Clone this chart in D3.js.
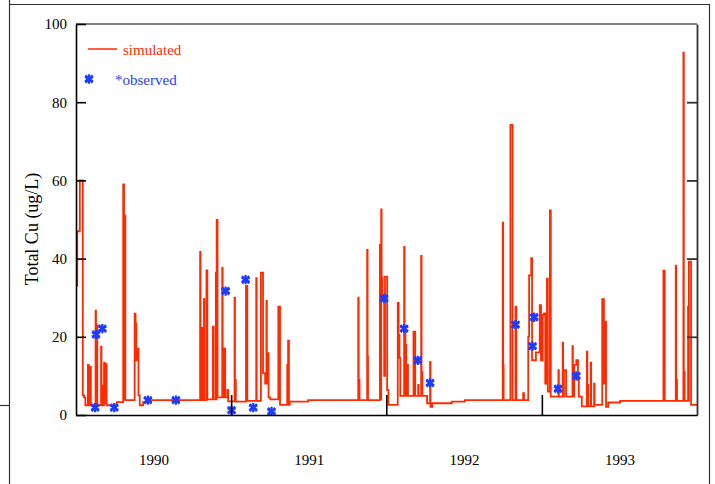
<!DOCTYPE html>
<html>
<head>
<meta charset="utf-8">
<script src="https://cdn.jsdelivr.net/npm/d3@7"></script>
<style>
  body { margin: 0; background: #fff; }
  svg { display: block; }
  text { font-family: "Liberation Serif", "Times New Roman", serif; }
</style>
</head>
<body>
<div id="chart"></div>
<script>
const w = 715;
const h = 484;

// simulated total Cu, [day since 1990-01-01, ug/L], held until the next step
const simSteps = [
  [0, 33], [3, 47], [9, 60], [16, 5], [19, 4.5], [22, 2.5],
  [28, 12.8], [30, 2.5], [32, 12.3], [35, 2.5],
  [46, 26.7], [47, 2.5], [48, 23], [50, 2.5],
  [59, 17.5], [60, 2.5], [61, 7.5], [63, 2.5],
  [66, 13.3], [68, 3], [69, 13], [72, 2.5],
  [96, 3.3],
  [111, 59], [113, 4], [114, 51], [116, 3.8],
  [138, 25.9], [140, 23.4], [142, 14], [144, 17], [147, 5], [150, 2.5], [158, 3.3], [165, 3.8],
  [292, 41.7], [293, 3.8], [294, 22.3], [297, 3.8], [301, 29.7], [302, 3.8], [307, 37], [309, 4],
  [322, 22.6], [324, 4], [329, 36.4], [330, 4], [331, 49.9], [333, 4.5],
  [344, 37.6], [345, 4.5], [348, 17], [351, 4.5], [356, 6.4], [358, 3.5],
  [373, 30], [374, 9], [376, 3.4],
  [400, 33], [403, 3.6],
  [424, 35], [425, 3.6],
  [435, 36.4], [440, 10.7], [445, 8], [448, 29.2], [449, 8], [452, 15.8], [453, 4.5], [457, 4],
  [476, 27.7], [480, 2.6],
  [497, 12.8], [499, 19], [501, 2.6], [503, 3.4], [546, 3.8],
  [664, 30], [665, 9], [667, 3.8],
  [685, 42.2], [686, 15], [687, 3.8],
  [715, 43.5], [717, 4], [718, 52.6], [719, 35.2], [721, 29.4], [725, 10], [727, 35.4], [732, 6.4], [735, 2.6],
  [757, 28.7], [759, 20.5], [761, 14.6], [763, 4.9],
  [772, 43], [773, 22], [775, 4.9], [776, 17.9], [777, 4.9], [780, 12.8], [781, 4.9],
  [794, 21.3], [798, 4.9], [805, 7.7], [806, 4.9],
  [812, 40.7], [813, 11], [815, 4.9], [826, 3],
  [833, 13.6], [834, 2.1], [838, 3], [884, 3.4], [915, 3.8],
  [1004, 49.2], [1005, 12.8], [1006, 3.8],
  [1022, 74.2], [1027, 3.8],
  [1034, 27.7], [1036, 3.8],
  [1052, 5.6], [1054, 3.8],
  [1064, 20], [1066, 35.7], [1071, 40.1], [1073, 14], [1082, 16], [1091, 28.1], [1094, 14],
  [1098, 25.6], [1101, 26], [1104, 8], [1108, 34.9], [1110, 6], [1115, 52.3], [1117, 4.7],
  [1135, 11.5], [1136, 4.7],
  [1145, 18.5], [1146, 4.7], [1148, 11.5], [1153, 4.7],
  [1168, 17.6], [1169, 4.7], [1172, 12.8], [1177, 14], [1181, 9], [1183, 4.7], [1190, 2.2],
  [1202, 16.2], [1203, 2.2], [1204, 7.7], [1205, 2.2], [1211, 13.4], [1212, 2.2], [1219, 8], [1220, 2.6],
  [1238, 29.6], [1242, 8], [1245, 23.9], [1247, 2.1], [1252, 3.2], [1280, 3.6],
  [1382, 36.9], [1385, 3.6],
  [1411, 38.2], [1412, 3.6], [1413, 9], [1414, 3.6],
  [1429, 92.7], [1430, 11], [1432, 3.6],
  [1440, 27.7], [1441, 3.6], [1442, 39.2], [1447, 2.6], [1461, 2.6]
];

// observed samples
const obsDay = [45, 47, 62, 90, 169, 235, 352, 366, 399, 417, 460,
  725, 772, 804, 833, 1034, 1074, 1078, 1134, 1177];
const obsValue = [1.9, 20.6, 22.1, 1.9, 3.8, 3.8, 31.7, 1.2, 34.6, 1.9, 0.9,
  29.8, 22.1, 14, 8.2, 23.1, 17.6, 25, 6.7, 10];

const yearLabels = ['1990', '1991', '1992', '1993'];
const yearStart = [0, 365, 730, 1096, 1461];
const yTicks = [0, 20, 40, 60, 80, 100];

const red = '#ff2a00';
const blue = '#1e3cff';

const svg = d3.select('#chart').append('svg')
  .attr('width', w)
  .attr('height', h);

// outer frame
const frame = svg.append('g').attr('stroke', '#333').attr('stroke-width', 1.2).attr('fill', 'none');
frame.append('path').attr('d', 'M9.5,0V484M9.5,4.5H709.5V484');
frame.append('path').attr('d', 'M0,405.5H9.5');

const x = d3.scaleLinear().domain([0, 1461]).range([76, 697]);
const y = d3.scaleLinear().domain([0, 100]).range([415, 24]);

// simulated line
const line = d3.line()
  .x(d => x(d[0]))
  .y(d => y(d[1]))
  .curve(d3.curveStepAfter);

svg.append('path')
  .datum(simSteps)
  .attr('d', line)
  .attr('fill', 'none')
  .attr('stroke', red)
  .attr('stroke-width', 1.8);

// observed stars
function star(g, cx, cy) {
  g.append('path')
    .attr('transform', 'translate(' + cx + ',' + cy + ')')
    .attr('d', d3.symbol(d3.symbolAsterisk, 60)())
    .attr('stroke', blue).attr('stroke-width', 2.3).attr('fill', 'none');
  g.append('path')
    .attr('transform', 'translate(' + cx + ',' + cy + ')')
    .attr('d', d3.symbol(d3.symbolTimes, 36)())
    .attr('stroke', blue).attr('stroke-width', 2.3).attr('fill', 'none');
}

const stars = svg.append('g');
obsDay.forEach((d, i) => star(stars, x(d), y(obsValue[i])));

// top / right frame of the plot
svg.append('line')
  .attr('x1', 76).attr('x2', 697).attr('y1', 24).attr('y2', 24)
  .attr('stroke', '#555').attr('stroke-width', 1.6);

svg.append('g')
  .attr('transform', 'translate(697,0)')
  .call(d3.axisRight(y).tickValues([20, 40, 60, 80]).tickSize(-10).tickSizeOuter(0).tickFormat(''))
  .call(g => g.selectAll('line,path').attr('stroke', '#333').attr('stroke-width', 1.8));

// left axis
svg.append('g')
  .attr('transform', 'translate(76,0)')
  .call(d3.axisLeft(y).tickValues(yTicks).tickSize(-10).tickSizeOuter(0).tickPadding(9))
  .call(g => g.selectAll('line,path').attr('stroke', '#000').attr('stroke-width', 1.6))
  .call(g => g.selectAll('text').attr('font-family', '"Liberation Serif", serif').attr('font-size', 15).attr('fill', '#000'));

// bottom axis: year boundaries, then year labels
svg.append('g')
  .attr('transform', 'translate(0,415)')
  .call(d3.axisBottom(x).tickValues(yearStart.slice(1, 4)).tickSize(-20).tickSizeOuter(0).tickFormat(''))
  .call(g => g.selectAll('line,path').attr('stroke', '#000').attr('stroke-width', 1.6));

svg.append('g')
  .attr('transform', 'translate(0,415)')
  .call(d3.axisBottom(x)
    .tickValues(yearLabels.map((d, i) => (yearStart[i] + yearStart[i + 1]) / 2))
    .tickSize(0).tickPadding(39)
    .tickFormat((d, i) => yearLabels[i]))
  .call(g => g.select('.domain').remove())
  .call(g => g.selectAll('text').attr('font-family', '"Liberation Serif", serif').attr('font-size', 15).attr('fill', '#000'));

svg.append('text')
  .attr('transform', 'rotate(-90)')
  .attr('x', -229)
  .attr('y', 38)
  .attr('text-anchor', 'middle')
  .attr('font-size', 18)
  .text('Total Cu (ug/L)');

// legend
const legend = svg.append('g');
legend.append('line')
  .attr('x1', 88).attr('x2', 117).attr('y1', 49).attr('y2', 49)
  .attr('stroke', red).attr('stroke-width', 1.5);
legend.append('text')
  .attr('x', 123).attr('y', 55)
  .attr('font-size', 15)
  .attr('fill', red)
  .text('simulated');
star(legend, 89, 79);
legend.append('text')
  .attr('x', 115).attr('y', 85)
  .attr('font-size', 15)
  .attr('fill', blue)
  .text('*observed');
</script>
</body>
</html>
